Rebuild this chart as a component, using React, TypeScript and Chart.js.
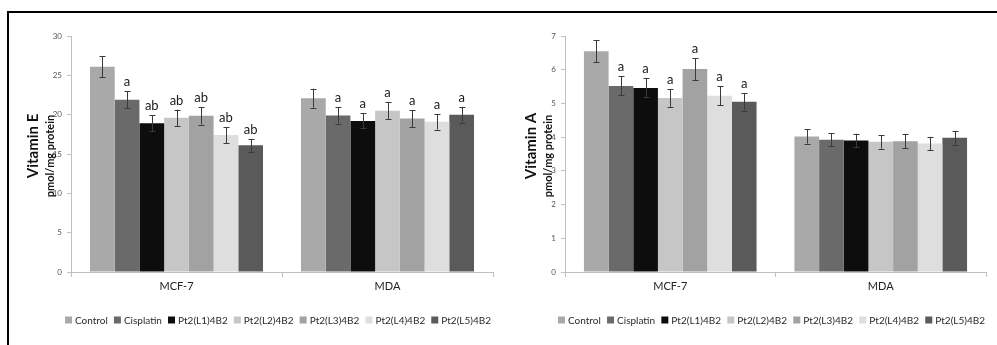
import React, { useEffect, useRef } from "react";
import { Chart, registerables } from "chart.js";
Chart.register(...registerables);

const categories = ["MCF-7", "MDA"];
const seriesNames = ["Control", "Cisplatin", "Pt2(L1)4B2", "Pt2(L2)4B2", "Pt2(L3)4B2", "Pt2(L4)4B2", "Pt2(L5)4B2"];
const seriesColors = ["#a9a9a9", "#6a6a6a", "#0d0d0d", "#c6c6c6", "#a2a2a2", "#dedede", "#5a5a5a"];

// Vitamin E (pmol/mg protein)
const vitEMCF7 = [26.1, 21.9, 18.9, 19.6, 19.85, 17.4, 16.1];
const vitEMDA = [22.1, 19.9, 19.2, 20.5, 19.5, 19.1, 20.0];
const vitEErrMCF7 = [1.3, 1.1, 1.0, 1.05, 1.1, 1.0, 0.8];
const vitEErrMDA = [1.2, 1.05, 0.95, 1.05, 1.1, 1.0, 1.0];
const vitESigMCF7 = ["", "a", "ab", "ab", "ab", "ab", "ab"];
const vitESigMDA = ["", "a", "a", "a", "a", "a", "a"];
const vitETicks = [0, 5, 10, 15, 20, 25, 30];

// Vitamin A (pmol/mg protein)
const vitAMCF7 = [6.55, 5.52, 5.46, 5.16, 6.02, 5.23, 5.05];
const vitAMDA = [4.02, 3.92, 3.9, 3.86, 3.88, 3.81, 3.98];
const vitAErrMCF7 = [0.33, 0.28, 0.28, 0.26, 0.32, 0.28, 0.26];
const vitAErrMDA = [0.21, 0.19, 0.2, 0.2, 0.2, 0.2, 0.2];
const vitASigMCF7 = ["", "a", "a", "a", "a", "a", "a"];
const vitASigMDA = ["", "", "", "", "", "", ""];
const vitATicks = [0, 1, 2, 3, 4, 5, 6, 7];

const FONT = "Lato, 'Open Sans', sans-serif";

type PanelProps = {
  width: number;
  left: number;
  title: string;
  mcf7: number[];
  mda: number[];
  errMcf7: number[];
  errMda: number[];
  sigMcf7: string[];
  sigMda: string[];
  ticks: number[];
  yAxisWidth: number;
  padRight: number;
  titleX: number;
  subX: number;
  legendStart: number;
  legendEnd: number;
};

function Panel(p: PanelProps) {
  const ref = useRef<HTMLCanvasElement | null>(null);
  useEffect(() => {
    if (!ref.current) return;
    const datasets = seriesNames.map((name, i) => ({
      label: name,
      data: [p.mcf7[i], p.mda[i]],
      backgroundColor: seriesColors[i],
      borderWidth: 0,
      categoryPercentage: 0.82,
      barPercentage: 1.0,
    }));
    const errs = seriesNames.map((_, i) => [p.errMcf7[i], p.errMda[i]]);
    const sigs = seriesNames.map((_, i) => [p.sigMcf7[i], p.sigMda[i]]);

    const extras = {
      id: "extras",
      afterDatasetsDraw(chart: any) {
        const ctx = chart.ctx;
        const y = chart.scales.y;
        ctx.save();
        chart.data.datasets.forEach((ds: any, i: number) => {
          const meta = chart.getDatasetMeta(i);
          meta.data.forEach((el: any, j: number) => {
            const v = ds.data[j];
            const e = errs[i][j];
            const top = y.getPixelForValue(v + e);
            const bot = y.getPixelForValue(v - e);
            const x = Math.round(el.x) + 0.5;
            ctx.strokeStyle = "#3a3a3a";
            ctx.lineWidth = 1;
            ctx.beginPath();
            ctx.moveTo(x, top);
            ctx.lineTo(x, bot);
            ctx.moveTo(x - 3, Math.round(top) + 0.5);
            ctx.lineTo(x + 3, Math.round(top) + 0.5);
            ctx.moveTo(x - 3, Math.round(bot) + 0.5);
            ctx.lineTo(x + 3, Math.round(bot) + 0.5);
            ctx.stroke();
            const s = sigs[i][j];
            if (s) {
              ctx.fillStyle = "#1a1a1a";
              ctx.font = `13px ${FONT}`;
              ctx.textAlign = "center";
              ctx.textBaseline = "alphabetic";
              ctx.fillText(s, el.x, top - 5);
            }
          });
        });
        // y-axis title
        ctx.fillStyle = "#111";
        ctx.textAlign = "center";
        ctx.textBaseline = "middle";
        ctx.save();
        ctx.translate(p.titleX, 146);
        ctx.rotate(-Math.PI / 2);
        ctx.font = `bold 15px ${FONT}`;
        ctx.fillText(p.title, 0, 0);
        ctx.restore();
        ctx.save();
        ctx.translate(p.subX, 156);
        ctx.rotate(-Math.PI / 2);
        ctx.font = `bold 11px ${FONT}`;
        ctx.fillText("pmol/mg protein", 0, 0);
        ctx.restore();
        // legend
        ctx.font = `10px ${FONT}`;
        const box = 7;
        const gapBT = 3;
        const widths = seriesNames.map((n) => box + gapBT + ctx.measureText(n).width);
        const total = widths.reduce((a, b) => a + b, 0);
        const gap = (p.legendEnd - p.legendStart - total) / (seriesNames.length - 1);
        let lx = p.legendStart;
        const ly = 320;
        seriesNames.forEach((n, i) => {
          ctx.fillStyle = seriesColors[i];
          ctx.fillRect(lx, ly - box / 2, box, box);
          ctx.fillStyle = "#2a2a2a";
          ctx.textAlign = "left";
          ctx.textBaseline = "middle";
          ctx.fillText(n, lx + box + gapBT, ly + 0.5);
          lx += widths[i] + gap;
        });
        ctx.restore();
      },
    };

    const chart = new Chart(ref.current, {
      type: "bar",
      data: { labels: categories, datasets },
      options: {
        animation: false,
        responsive: false,
        layout: { padding: { top: 36, right: p.padRight, left: 0, bottom: 0 } },
        plugins: { legend: { display: false }, tooltip: { enabled: false } },
        scales: {
          x: {
            afterFit: (s: any) => {
              s.height = 73;
            },
            border: { display: true, color: "#bfbfbf" },
            grid: { display: true, drawOnChartArea: false, tickLength: 5, color: "#bfbfbf", offset: true },
            ticks: { color: "#222", font: { family: FONT, size: 11 }, padding: 3 },
          },
          y: {
            min: p.ticks[0],
            max: p.ticks[p.ticks.length - 1],
            afterFit: (s: any) => {
              s.width = p.yAxisWidth;
            },
            afterBuildTicks: (s: any) => {
              s.ticks = p.ticks.map((v) => ({ value: v }));
            },
            border: { display: true, color: "#bfbfbf" },
            grid: { display: true, drawOnChartArea: false, tickLength: 4, color: "#bfbfbf" },
            ticks: { color: "#555", font: { family: FONT, size: 8 }, padding: 5 },
          },
        },
      },
      plugins: [extras],
    });
    return () => chart.destroy();
  }, []);
  return (
    <canvas
      ref={ref}
      width={p.width}
      height={345}
      style={{ position: "absolute", left: p.left, top: 0, width: p.width, height: 345 }}
    />
  );
}

export default function App() {
  return (
    <div style={{ position: "absolute", left: 0, top: 0, width: 997, height: 345, background: "#fff", overflow: "hidden" }}>
      <Panel
        width={497}
        left={0}
        title="Vitamin E"
        mcf7={vitEMCF7}
        mda={vitEMDA}
        errMcf7={vitEErrMCF7}
        errMda={vitEErrMDA}
        sigMcf7={vitESigMCF7}
        sigMda={vitESigMDA}
        ticks={vitETicks}
        yAxisWidth={71}
        padRight={4}
        titleX={33}
        subX={50}
        legendStart={65}
        legendEnd={491}
      />
      <Panel
        width={500}
        left={497}
        title="Vitamin A"
        mcf7={vitAMCF7}
        mda={vitAMDA}
        errMcf7={vitAErrMCF7}
        errMda={vitAErrMDA}
        sigMcf7={vitASigMCF7}
        sigMda={vitASigMDA}
        ticks={vitATicks}
        yAxisWidth={68}
        padRight={11}
        titleX={34}
        subX={51}
        legendStart={61}
        legendEnd={488}
      />
      <div
        style={{
          position: "absolute",
          left: 7,
          top: 11,
          width: 990,
          height: 334,
          borderTop: "2px solid #000",
          borderLeft: "2px solid #000",
          boxSizing: "border-box",
          pointerEvents: "none",
        }}
      />
    </div>
  );
}
